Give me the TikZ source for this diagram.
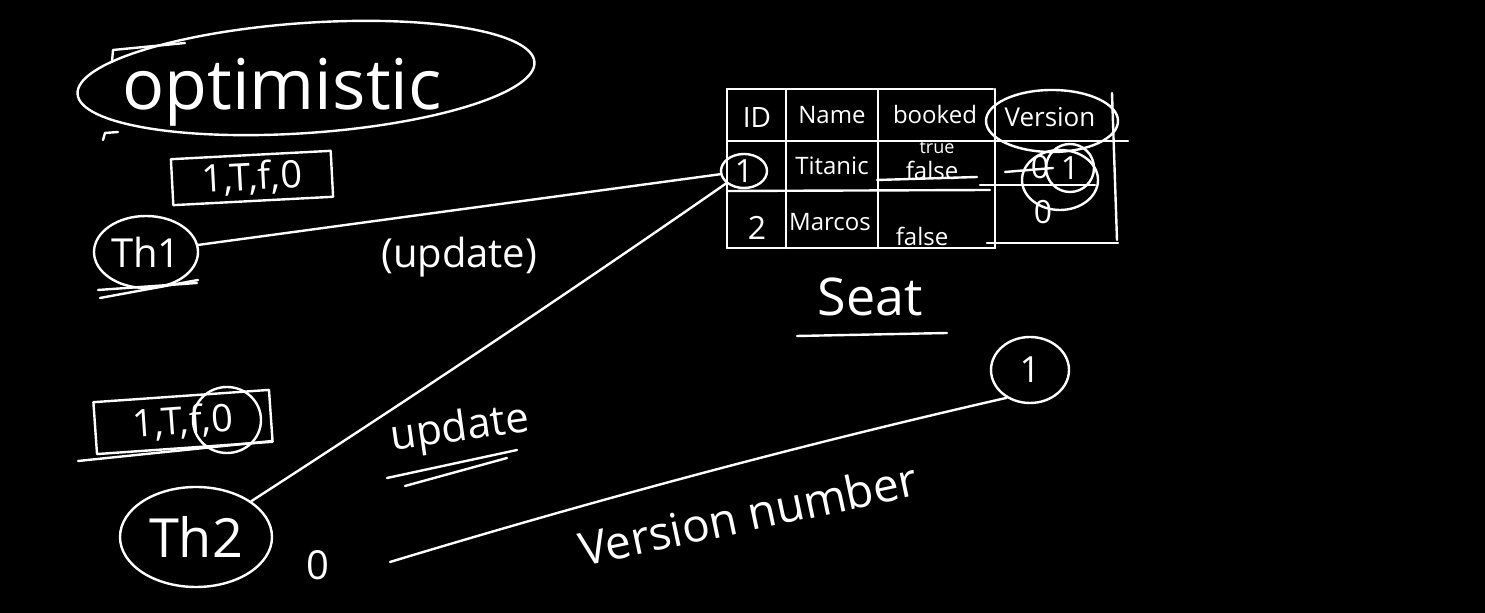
\documentclass[tikz,border=0pt]{standalone}
\usepackage{fontspec}
\setmainfont{Open Sans}
\usetikzlibrary{shapes.geometric}

\tikzset{
  chalk/.style={draw=white, line width=1.2pt, line cap=round, line join=round},
  chalktext/.style={text=white, inner sep=1pt},
  cell/.style={chalktext, font=\fontsize{12}{12}\selectfont},
  digit/.style={chalktext, font=\fontsize{16}{16}\selectfont},
}

\begin{document}
\begin{tikzpicture}[x=0.5pt, y=-0.5pt]
    \useasboundingbox (0,0) rectangle (1485,613);
    \fill[black] (0,0) rectangle (1485,613);

    % heading
    \node [chalktext, font=\fontsize{35}{35}\selectfont] (title) at (282,92) {optimistic};
    \draw [chalk, rotate around={4:(306,78)}] (306,78) ellipse [x radius=229, y radius=55];
    \draw [chalk] (112,62) -- (113,50) -- (185,43);
    \draw [chalk] (103,140) -- (105,133) -- (118,132);

    % thread 1
    \node [chalk, chalktext, font=\fontsize{19}{19}\selectfont, minimum width=80pt, minimum height=23pt, rotate=3] (state1) at (252,178) {1,T,f,0};
    \node [chalk, ellipse, chalktext, font=\fontsize{20}{20}\selectfont, minimum width=52pt, minimum height=36pt] (th1) at (146,252) {Th1};
    \draw [chalk] (98,290) -- (197,283);
    \draw [chalk] (100,298) -- (198,280);

    % thread 2
    \node [chalk, chalktext, font=\fontsize{19}{19}\selectfont, minimum width=88pt, minimum height=26pt, rotate=4] (state2) at (183,422) {1,T,f,0};
    \node [chalk, ellipse, minimum width=34pt, minimum height=33pt] (zero2) at (227,420) {};
    \draw [chalk] (78,461) -- (272,441);
    \node [chalk, ellipse, chalktext, font=\fontsize{27}{27}\selectfont, minimum width=76pt, minimum height=50pt] (th2) at (196,537) {Th2};
    \node [chalktext, font=\fontsize{20}{20}\selectfont] (zero) at (318,565) {0};

    % table Seat
    \foreach \x in {727,786,878,995}
        \draw [chalk] (\x,89) -- (\x,248);
    \draw [chalk] (1112,93) -- (1117,240);
    \draw [chalk] (727,89) -- (993,89);
    \draw [chalk] (727,141) -- (1128,141);
    \draw [chalk] (727,191) -- (990,190);
    \draw [chalk] (980,185) -- (1095,185);
    \draw [chalk] (727,248) -- (995,248);
    \draw [chalk] (987,243) -- (1118,243);

    \node [cell, font=\fontsize{14}{14}\selectfont] (hid) at (757,118) {ID};
    \node [cell] (hname) at (832,115) {Name};
    \node [cell] (hbooked) at (935,115) {booked};
    \node [cell, font=\fontsize{13}{13}\selectfont] (hver) at (1050,117) {Version};
    \draw [chalk] (1052,121) ellipse [x radius=66, y radius=31];

    \node [digit, chalk, ellipse, inner sep=0pt, minimum width=23pt, minimum height=17pt] (r1id) at (744,171) {1};
    \node [cell] (r1name) at (832,166) {Titanic};
    \node [chalktext, font=\fontsize{9}{9}\selectfont] (r1true) at (937,148) {true};
    \node [cell] (r1booked) at (932,170) {false};
    \draw [chalk] (877,180) -- (977,177);
    \node [digit] (r1old) at (1040,167) {0};
    \draw [chalk] (1005,172) -- (1053,168);
    \node [digit, chalk, circle, inner sep=0pt, minimum size=24pt] (r1ver) at (1070,168) {1};
    \draw [chalk] (1060,180) ellipse [x radius=38, y radius=30];

    \node [digit] (r2id) at (757,228) {2};
    \node [cell] (r2name) at (830,222) {Marcos};
    \node [cell] (r2booked) at (922,236) {false};
    \node [digit] (r2ver) at (1043,212) {0};

    \node [chalktext, font=\fontsize{26}{26}\selectfont] (seat) at (870,297) {Seat};
    \draw [chalk] (797,336) -- (947,333);

    % updates
    \draw [chalk] (th1) -- (r1id) node [midway, below=12pt, chalktext, font=\fontsize{20}{20}\selectfont] {(update)};
    \draw [chalk] (th2) .. controls (420,392) and (580,285) .. (r1id);
    \node [chalktext, font=\fontsize{21}{21}\selectfont, rotate=8] (upd2) at (460,430) {update};
    \draw [chalk] (387,478) -- (517,450);
    \draw [chalk] (405,486) -- (507,458);

    % version number
    \node [chalk, ellipse, chalktext, font=\fontsize{18}{18}\selectfont, minimum width=39pt, minimum height=33pt] (one) at (1030,370) {1};
    \coordinate (vstart) at (390,562);
    \draw [chalk] (vstart) .. controls (595,500) and (800,445) .. (one.230);
    \node [chalktext, font=\fontsize{23}{23}\selectfont, rotate=12] (vnum) at (748,514) {Version number};
\end{tikzpicture}
\end{document}
